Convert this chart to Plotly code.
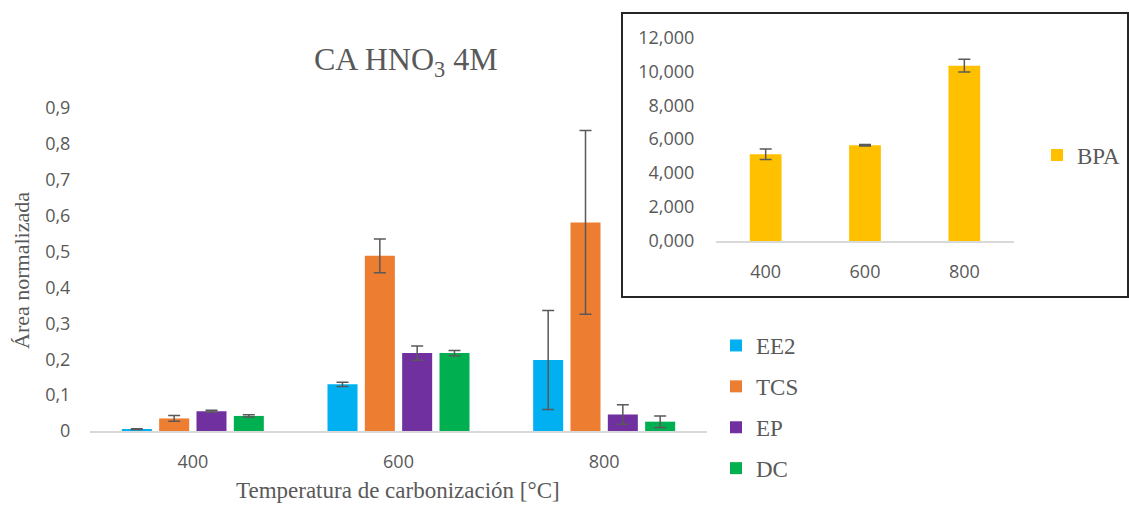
import plotly.graph_objects as go

# ---------------- data ----------------
categories = ["400", "600", "800"]

ee2 = [0.005, 0.130, 0.198]
ee2_err = [0.001, 0.006, 0.138]
tcs = [0.035, 0.488, 0.581]
tcs_err = [0.008, 0.047, 0.256]
ep = [0.055, 0.217, 0.046]
ep_err = [0.003, 0.020, 0.027]
dc = [0.042, 0.217, 0.026]
dc_err = [0.003, 0.007, 0.016]

bpa = [5.11, 5.64, 10.33]
bpa_err = [0.31, 0.05, 0.37]

main_yticks = [0, 0.1, 0.2, 0.3, 0.4, 0.5, 0.6, 0.7, 0.8, 0.9]
main_yticklabels = ["0", "0,1", "0,2", "0,3", "0,4", "0,5", "0,6", "0,7", "0,8", "0,9"]
inset_yticks = [0, 2, 4, 6, 8, 10, 12]
inset_yticklabels = ["0,000", "2,000", "4,000", "6,000", "8,000", "10,000", "12,000"]

# ---------------- style ----------------
W, H = 1129, 505
GREY = "#595959"
TICK_FONT = dict(family="Open Sans", size=18, color=GREY)
SERIF = "Liberation Serif"


def px(x):
    return x / W


def py(y):
    return 1 - y / H


series = [
    ("EE2", ee2, ee2_err, "#00B0F0"),
    ("TCS", tcs, tcs_err, "#ED7D31"),
    ("EP", ep, ep_err, "#7030A0"),
    ("DC", dc, dc_err, "#00B050"),
]

fig = go.Figure()
for name, vals, errs, col in series:
    fig.add_trace(go.Bar(
        x=categories, y=vals, name=name, marker_color=col,
        marker_line_width=0,
        legendgroup=name,
        error_y=dict(type="data", array=errs, visible=True,
                     color=GREY, thickness=1.5, width=6),
        xaxis="x", yaxis="y", legend="legend",
    ))

fig.add_trace(go.Bar(
    x=categories, y=bpa, name="BPA", marker_color="#FFC000",
    marker_line_width=0, width=0.32,
    error_y=dict(type="data", array=bpa_err, visible=True,
                 color=GREY, thickness=1.5, width=6),
    xaxis="x2", yaxis="y2", legend="legend2",
))

fig.update_layout(
    width=W, height=H,
    margin=dict(l=0, r=0, t=0, b=0, autoexpand=False),
    paper_bgcolor="white", plot_bgcolor="rgba(0,0,0,0)",
    barmode="group", bargap=0.274, bargroupgap=0.196,
    separators=",.",
    xaxis=dict(domain=[px(90), px(707)], anchor="y", type="category",
               showline=True, linecolor="#D9D9D9", linewidth=1.5,
               showgrid=False, zeroline=False, automargin=False,
               ticks="outside", ticklen=14, tickcolor="rgba(0,0,0,0)",
               tickfont=TICK_FONT),
    yaxis=dict(domain=[py(431), py(108)], anchor="x", range=[0, 0.9],
               showgrid=False, zeroline=False, showline=False, automargin=False,
               tickvals=main_yticks, ticktext=main_yticklabels,
               ticks="outside", ticklen=15, tickcolor="rgba(0,0,0,0)",
               tickfont=TICK_FONT),
    xaxis2=dict(domain=[px(716), px(1014)], anchor="y2", type="category",
                showline=True, linecolor="#D9D9D9", linewidth=1.5,
                showgrid=False, zeroline=False, automargin=False,
                ticks="outside", ticklen=14, tickcolor="rgba(0,0,0,0)",
                tickfont=TICK_FONT),
    yaxis2=dict(domain=[py(241), py(37.3)], anchor="x2", range=[0, 12],
                showgrid=False, zeroline=False, showline=False, automargin=False,
                tickvals=inset_yticks, ticktext=inset_yticklabels,
                ticks="outside", ticklen=17, tickcolor="rgba(0,0,0,0)",
                tickfont=TICK_FONT),
    legend=dict(x=px(716), y=py(324), xanchor="left", yanchor="top",
                traceorder="grouped", tracegroupgap=8,
                font=dict(family=SERIF, size=23, color=GREY),
                bgcolor="rgba(0,0,0,0)"),
    legend2=dict(x=px(1037), y=py(155), xanchor="left", yanchor="middle",
                 font=dict(family=SERIF, size=23, color=GREY),
                 bgcolor="rgba(0,0,0,0)"),
    showlegend=True,
)

fig.add_shape(type="rect", xref="paper", yref="paper",
              x0=px(622), x1=px(1128), y0=py(297), y1=py(13),
              line=dict(color="#262626", width=2), layer="below")

fig.add_annotation(text="CA HNO<sub>3</sub> 4M", xref="paper", yref="paper",
                   x=px(406), y=py(61), showarrow=False,
                   xanchor="center", yanchor="middle",
                   font=dict(family=SERIF, size=32, color=GREY))
fig.add_annotation(text="Área normalizada", xref="paper", yref="paper",
                   x=px(21), y=py(271), showarrow=False, textangle=-90,
                   xanchor="center", yanchor="middle",
                   font=dict(family=SERIF, size=22, color=GREY))
fig.add_annotation(text="Temperatura de carbonización [°C]", xref="paper", yref="paper",
                   x=px(398), y=py(490), showarrow=False,
                   xanchor="center", yanchor="middle",
                   font=dict(family=SERIF, size=23, color=GREY))

fig.write_html("out.html", config={"displayModeBar": False},
               post_script="document.body.style.margin='0';")
